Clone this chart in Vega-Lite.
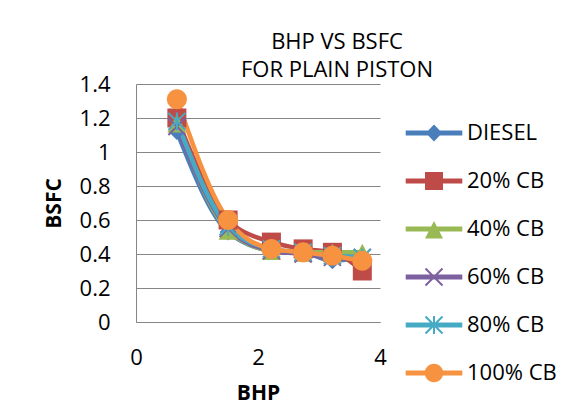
{
  "$schema": "https://vega.github.io/schema/vega-lite/v6.json",
  "width": 244,
  "height": 238,
  "autosize": {"type": "none"},
  "padding": {"left": 136, "top": 84, "right": 200, "bottom": 88},
  "background": "white",
  "config": {
    "font": "Open Sans",
    "view": {"stroke": null}
  },
  "title": {
    "text": ["BHP VS BSFC", "FOR PLAIN PISTON"],
    "anchor": "middle",
    "frame": "group",
    "dx": 79,
    "offset": -9,
    "fontSize": 22,
    "fontWeight": "normal",
    "lineHeight": 28.5,
    "color": "black",
    "font": "Open Sans"
  },
  "data": {
    "values": [
      {"series": "DIESEL", "bhp": 0.67, "bsfc": 1.12},
      {"series": "DIESEL", "bhp": 1.51, "bsfc": 0.53},
      {"series": "DIESEL", "bhp": 2.22, "bsfc": 0.42},
      {"series": "DIESEL", "bhp": 2.74, "bsfc": 0.41},
      {"series": "DIESEL", "bhp": 3.22, "bsfc": 0.36},
      {"series": "DIESEL", "bhp": 3.71, "bsfc": 0.38},
      {"series": "20% CB", "bhp": 0.67, "bsfc": 1.2},
      {"series": "20% CB", "bhp": 1.51, "bsfc": 0.6},
      {"series": "20% CB", "bhp": 2.22, "bsfc": 0.47},
      {"series": "20% CB", "bhp": 2.74, "bsfc": 0.43},
      {"series": "20% CB", "bhp": 3.22, "bsfc": 0.41},
      {"series": "20% CB", "bhp": 3.71, "bsfc": 0.3},
      {"series": "40% CB", "bhp": 0.67, "bsfc": 1.17},
      {"series": "40% CB", "bhp": 1.51, "bsfc": 0.54},
      {"series": "40% CB", "bhp": 2.22, "bsfc": 0.42},
      {"series": "40% CB", "bhp": 2.74, "bsfc": 0.41},
      {"series": "40% CB", "bhp": 3.22, "bsfc": 0.41},
      {"series": "40% CB", "bhp": 3.71, "bsfc": 0.41},
      {"series": "60% CB", "bhp": 0.67, "bsfc": 1.15},
      {"series": "60% CB", "bhp": 1.51, "bsfc": 0.55},
      {"series": "60% CB", "bhp": 2.22, "bsfc": 0.42},
      {"series": "60% CB", "bhp": 2.74, "bsfc": 0.4},
      {"series": "60% CB", "bhp": 3.22, "bsfc": 0.38},
      {"series": "60% CB", "bhp": 3.71, "bsfc": 0.38},
      {"series": "80% CB", "bhp": 0.67, "bsfc": 1.18},
      {"series": "80% CB", "bhp": 1.51, "bsfc": 0.56},
      {"series": "80% CB", "bhp": 2.22, "bsfc": 0.43},
      {"series": "80% CB", "bhp": 2.74, "bsfc": 0.41},
      {"series": "80% CB", "bhp": 3.22, "bsfc": 0.39},
      {"series": "80% CB", "bhp": 3.71, "bsfc": 0.38},
      {"series": "100% CB", "bhp": 0.67, "bsfc": 1.31},
      {"series": "100% CB", "bhp": 1.51, "bsfc": 0.6},
      {"series": "100% CB", "bhp": 2.22, "bsfc": 0.43},
      {"series": "100% CB", "bhp": 2.74, "bsfc": 0.41},
      {"series": "100% CB", "bhp": 3.22, "bsfc": 0.39},
      {"series": "100% CB", "bhp": 3.71, "bsfc": 0.36}
    ]
  },
  "encoding": {
    "x": {
      "field": "bhp",
      "type": "quantitative",
      "scale": {"domain": [0, 4], "nice": false, "zero": true},
      "axis": {
        "title": "BHP",
        "values": [0, 2, 4],
        "format": "~g",
        "grid": false,
        "ticks": false,
        "tickSize": 0,
        "domainColor": "#868686",
        "domainWidth": 1,
        "labelFontSize": 22,
        "labelColor": "black",
        "labelPadding": 25,
        "labelFlush": false,
        "titleFontSize": 21,
        "titleFontWeight": "bold",
        "titleColor": "black",
        "titleX": 122,
        "titleY": 71,
        "titleBaseline": "middle"
      }
    },
    "y": {
      "field": "bsfc",
      "type": "quantitative",
      "scale": {"domain": [0, 1.4], "nice": false},
      "axis": {
        "title": "BSFC",
        "values": [0, 0.2, 0.4, 0.6, 0.8, 1, 1.2, 1.4],
        "format": "~g",
        "grid": true,
        "gridColor": "#868686",
        "gridWidth": 1,
        "ticks": false,
        "tickSize": 0,
        "domainColor": "#868686",
        "domainWidth": 1,
        "labelFontSize": 22,
        "labelColor": "black",
        "labelPadding": 26,
        "labelFlush": false,
        "titleFontSize": 21,
        "titleFontWeight": "bold",
        "titleColor": "black",
        "titleX": -82,
        "titleY": 119,
        "titleBaseline": "middle",
        "titleAngle": -90
      }
    },
    "color": {
      "field": "series",
      "type": "nominal",
      "sort": ["DIESEL", "20% CB", "40% CB", "60% CB", "80% CB", "100% CB"],
      "scale": {
        "domain": ["DIESEL", "20% CB", "40% CB", "60% CB", "80% CB", "100% CB"],
        "range": ["#4A7EBB", "#BE4B48", "#98B954", "#7D60A0", "#46AAC5", "#F69240"]
      },
      "legend": {
        "title": null,
        "orient": "none",
        "legendX": 287,
        "legendY": 38,
        "padding": 0,
        "symbolSize": 400,
        "labelFontSize": 22,
        "labelColor": "black",
        "labelOffset": 22,
        "rowPadding": 26,
        "labelBaseline": "middle",
        "encode": {
          "symbols": {
            "update": {
              "shape": {
                "signal": "datum.value === 'DIESEL' ? 'M-2.83,-0.25H2.83V0.25H-2.83ZM0,-0.85L0.82,0L0,0.85L-0.82,0Z' : datum.value === '20% CB' ? 'M-2.83,-0.25H2.83V0.25H-2.83ZM-0.9,-0.9H0.9V0.9H-0.9Z' : datum.value === '40% CB' ? 'M-2.83,-0.25H2.83V0.25H-2.83ZM0,-0.8L0.9,0.95H-0.9Z' : datum.value === '60% CB' ? 'M-2.83,-0.25H2.83V0.25H-2.83ZM-0.779,-0.921L0.921,0.779L0.779,0.921L-0.921,-0.779ZM-0.779,0.921L-0.921,0.779L0.779,-0.921L0.921,-0.779Z' : datum.value === '80% CB' ? 'M-2.83,-0.25H2.83V0.25H-2.83ZM-0.779,-0.921L0.921,0.779L0.779,0.921L-0.921,-0.779ZM-0.779,0.921L-0.921,0.779L0.779,-0.921L0.921,-0.779ZM-0.1,-0.9H0.1V0.9H-0.1Z' : 'M-2.83,-0.25H2.83V0.25H-2.83ZM-0.92,0A0.92,0.92 0 1 1 0.92,0A0.92,0.92 0 1 1 -0.92,0Z'"
              },
              "size": {"value": 400},
              "fill": {"scale": "color", "field": "value"},
              "stroke": {"value": "transparent"},
              "strokeWidth": {"value": 0},
              "opacity": {"value": 1},
              "fillOpacity": {"value": 1}
            }
          }
        }
      }
    }
  },
  "layer": [
    {
      "mark": {"type": "line", "strokeWidth": 4.5, "interpolate": "monotone"}
    },
    {
      "transform": [{"filter": "datum.series === 'DIESEL'"}],
      "mark": {"type": "point", "filled": true, "opacity": 1, "size": 400, "strokeWidth": 0, "shape": "M0,-0.85L0.85,0L0,0.85L-0.85,0Z"}
    },
    {
      "transform": [{"filter": "datum.series === '20% CB'"}],
      "mark": {"type": "point", "filled": true, "opacity": 1, "size": 400, "strokeWidth": 0, "shape": "M-0.95,-0.95H0.95V0.95H-0.95Z"}
    },
    {
      "transform": [{"filter": "datum.series === '40% CB'"}],
      "mark": {"type": "point", "filled": true, "opacity": 1, "size": 400, "strokeWidth": 0, "shape": "M0,-0.85L0.95,0.95H-0.95Z"}
    },
    {
      "transform": [{"filter": "datum.series === '60% CB'"}],
      "mark": {"type": "point", "filled": true, "opacity": 1, "size": 400, "strokeWidth": 0, "shape": "M-0.779,-0.921L0.921,0.779L0.779,0.921L-0.921,-0.779ZM-0.779,0.921L-0.921,0.779L0.779,-0.921L0.921,-0.779Z"}
    },
    {
      "transform": [{"filter": "datum.series === '80% CB'"}],
      "mark": {"type": "point", "filled": true, "opacity": 1, "size": 400, "strokeWidth": 0, "shape": "M-0.779,-0.921L0.921,0.779L0.779,0.921L-0.921,-0.779ZM-0.779,0.921L-0.921,0.779L0.779,-0.921L0.921,-0.779ZM-0.1,-0.9H0.1V0.9H-0.1Z"}
    },
    {
      "transform": [{"filter": "datum.series === '100% CB'"}],
      "mark": {"type": "point", "filled": true, "opacity": 1, "size": 400, "strokeWidth": 0, "shape": "M-1,0A1,1 0 1 1 1,0A1,1 0 1 1 -1,0Z"}
    }
  ]
}
